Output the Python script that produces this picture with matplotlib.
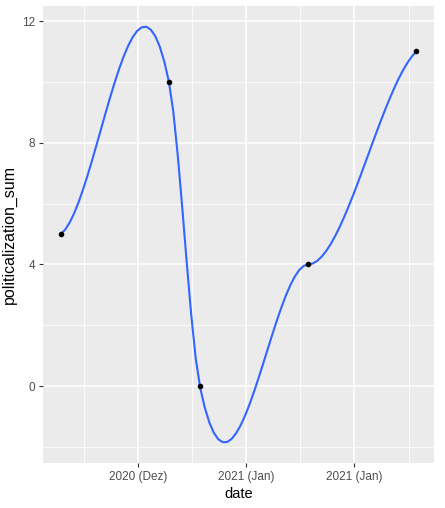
import numpy as np
import matplotlib
matplotlib.use('Agg')
import matplotlib.pyplot as plt
import matplotlib.dates as mdates
import datetime as dt

# data
dates = [dt.date(2020, 12, 22), dt.date(2020, 12, 29), dt.date(2020, 12, 31),
         dt.date(2021, 1, 7), dt.date(2021, 1, 14)]
politicalization_sum = [5, 10, 0, 4, 11]
tick_dates = [dt.date(2020, 12, 27), dt.date(2021, 1, 3), dt.date(2021, 1, 10)]
tick_labels = ['2020 (Dez)', '2021 (Jan)', '2021 (Jan)']


def local_fit(x, y, x0, span=0.75):
    """local quadratic fit with tricube weights (loess style), returns value and slope at x0"""
    q = int(np.floor(len(x) * span + 1e-5))
    d = np.abs(x - x0)
    rho = np.sort(d)[q - 1]
    w = np.where(d < rho, (1 - (d / rho) ** 3) ** 3, 0.0)
    X = np.column_stack([np.ones_like(x), x - x0, (x - x0) ** 2]) * np.sqrt(w)[:, None]
    norms = np.linalg.norm(X, axis=0)
    norms[norms == 0] = 1
    c = np.linalg.lstsq(X / norms, y * np.sqrt(w), rcond=None)[0] / norms
    return c[0], c[1]


def loess_curve(x, y, n=80):
    # fits at the vertices (data points), cubic hermite in between
    x = np.asarray(x, float)
    y = np.asarray(y, float)
    fits = np.array([local_fit(x, y, v) for v in x])
    xs = np.linspace(x.min(), x.max(), n)
    idx = np.clip(np.searchsorted(x, xs) - 1, 0, len(x) - 2)
    h = x[idx + 1] - x[idx]
    t = (xs - x[idx]) / h
    h00 = 2 * t ** 3 - 3 * t ** 2 + 1
    h10 = t ** 3 - 2 * t ** 2 + t
    h01 = -2 * t ** 3 + 3 * t ** 2
    h11 = t ** 3 - t ** 2
    ys = (h00 * fits[idx, 0] + h10 * h * fits[idx, 1]
          + h01 * fits[idx + 1, 0] + h11 * h * fits[idx + 1, 1])
    return xs, ys


xnum = mdates.date2num(dates)
xs, ys = loess_curve(xnum - xnum[0], politicalization_sum)
xs = xs + xnum[0]

plt.rcParams['font.family'] = ['Liberation Sans', 'DejaVu Sans']

fig = plt.figure(figsize=(4.45, 5.08), dpi=100)
ax = fig.add_axes([0.0966, 0.0886, 0.9753 - 0.0966, 0.9882 - 0.0886])
ax.set_facecolor('#EBEBEB')

ax.plot(xs, ys, color='#3366FF', lw=1.5, zorder=3)
ax.scatter(xnum, politicalization_sum, s=9, color='black', zorder=4)

span = xnum[-1] - xnum[0]
ax.set_xlim(xnum[0] - 0.05 * span, xnum[-1] + 0.05 * span)
ylo = min(ys.min(), min(politicalization_sum))
yhi = max(ys.max(), max(politicalization_sum))
ax.set_ylim(ylo - 0.05 * (yhi - ylo), yhi + 0.05 * (yhi - ylo))

tnum = mdates.date2num(tick_dates)
ax.set_xticks(tnum)
ax.set_xticklabels(tick_labels)
ax.set_xticks(np.concatenate([[tnum[0] - 3.5], (tnum[:-1] + tnum[1:]) / 2, [tnum[-1] + 3.5]]), minor=True)
ax.set_yticks([0, 4, 8, 12])
ax.set_yticks([-2, 2, 6, 10], minor=True)

ax.grid(which='major', color='white', lw=1.1)
ax.grid(which='minor', color='white', lw=0.55)
ax.set_axisbelow(True)
for s in ax.spines.values():
    s.set_visible(False)
ax.tick_params(which='major', length=3, width=0.8, color='#333333',
               labelsize=8.5, labelcolor='#4D4D4D', pad=2.5)
ax.tick_params(which='minor', length=0)

ax.set_xlabel('date', fontsize=10.5, labelpad=3)
ax.set_ylabel('politicalization_sum', fontsize=11.5, labelpad=4)

fig.savefig('out.png', dpi=100)
